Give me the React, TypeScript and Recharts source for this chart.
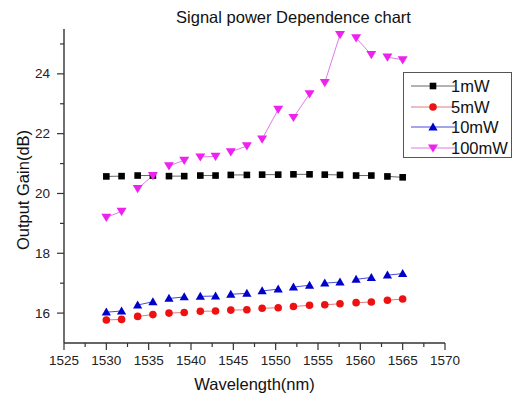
import React from 'react';
import { LineChart, Line, XAxis, YAxis } from 'recharts';

const wavelengths = [
  1530, 1531.8, 1533.7, 1535.5, 1537.4, 1539.2, 1541.1, 1542.9, 1544.7, 1546.6,
  1548.4, 1550.3, 1552.1, 1554.0, 1555.8, 1557.6, 1559.5, 1561.3, 1563.2, 1565,
];
const gain1mW = [
  20.57, 20.58, 20.6, 20.6, 20.58, 20.58, 20.6, 20.6, 20.62, 20.62,
  20.63, 20.63, 20.64, 20.64, 20.63, 20.62, 20.6, 20.6, 20.57, 20.54,
];
const gain5mW = [
  15.77, 15.79, 15.89, 15.95, 16.0, 16.02, 16.06, 16.07, 16.1, 16.11,
  16.16, 16.18, 16.22, 16.26, 16.28, 16.31, 16.35, 16.37, 16.43, 16.47,
];
const gain10mW = [
  16.03, 16.07, 16.27, 16.38, 16.49, 16.54, 16.56, 16.57, 16.63, 16.66,
  16.74, 16.8, 16.87, 16.93, 17.0, 17.04, 17.13, 17.19, 17.27, 17.32,
];
const gain100mW = [
  19.2, 19.4, 20.16, 20.6, 20.92, 21.11, 21.22, 21.24, 21.39, 21.59,
  21.82, 22.81, 22.54, 23.33, 23.71, 25.31, 25.2, 24.64, 24.56, 24.47,
];

const xTicks = [1525, 1527.5, 1530, 1532.5, 1535, 1537.5, 1540, 1542.5, 1545, 1547.5, 1550, 1552.5, 1555, 1557.5, 1560, 1562.5, 1565, 1567.5, 1570];
const yTicks = [16, 17, 18, 19, 20, 21, 22, 23, 24, 25];

const FONT = '"Liberation Sans", Arial, sans-serif';

// measurements are taken in pairs, so only each pair is joined by a line
function pairs(values: number[]) {
  const out: { x: number; y: number | null }[] = [];
  values.forEach((v, i) => {
    out.push({ x: wavelengths[i], y: v });
    if (i % 2 === 1 && i < values.length - 1) {
      out.push({ x: (wavelengths[i] + wavelengths[i + 1]) / 2, y: null });
    }
  });
  return out;
}

type Shape = 'square' | 'circle' | 'up' | 'down';

function Marker({ shape, cx, cy, fill }: { shape: Shape; cx: number; cy: number; fill: string }) {
  if (shape === 'square') return <rect x={cx - 3.3} y={cy - 3.3} width={6.6} height={6.6} fill={fill} />;
  if (shape === 'circle') return <circle cx={cx} cy={cy} r={3.8} fill={fill} />;
  if (shape === 'up')
    return <polygon points={`${cx},${cy - 4.6} ${cx + 4.6},${cy + 3.4} ${cx - 4.6},${cy + 3.4}`} fill={fill} />;
  return <polygon points={`${cx - 5},${cy - 3.6} ${cx + 5},${cy - 3.6} ${cx},${cy + 4.6}`} fill={fill} />;
}

const series = [
  { name: '1mW', values: gain1mW, shape: 'square' as Shape, fill: '#000000', line: '#666666' },
  { name: '5mW', values: gain5mW, shape: 'circle' as Shape, fill: '#ee1111', line: '#e07a7a' },
  { name: '10mW', values: gain10mW, shape: 'up' as Shape, fill: '#0000cc', line: '#4a4ad8' },
  { name: '100mW', values: gain100mW, shape: 'down' as Shape, fill: '#ee22ee', line: '#e07ae6' },
];

const XTick = (props: any) => {
  const { x, y, payload } = props;
  const major = payload.value % 5 === 0;
  return (
    <g>
      <line x1={x} x2={x} y1={y} y2={y + (major ? 7 : 4)} stroke="#333" strokeWidth={1.2} />
      {major && (
        <text x={x} y={y + 17} textAnchor="middle" dominantBaseline="central" fontSize={13.5} fontFamily={FONT} fill="#222">
          {payload.value}
        </text>
      )}
    </g>
  );
};

const YTick = (props: any) => {
  const { x, y, payload } = props;
  const major = payload.value % 2 === 0;
  return (
    <g>
      <line x1={x} x2={x - (major ? 7 : 4)} y1={y} y2={y} stroke="#333" strokeWidth={1.2} />
      {major && (
        <text x={x - 14} y={y} textAnchor="end" dominantBaseline="central" fontSize={13.5} fontFamily={FONT} fill="#222">
          {payload.value}
        </text>
      )}
    </g>
  );
};

export default function App() {
  return (
    <div style={{ position: 'absolute', left: 0, top: 0, width: 515, height: 394, background: '#fff', fontFamily: FONT }}>
      <LineChart width={515} height={394} margin={{ top: 29, right: 70, bottom: 0, left: 0 }}>
        <XAxis
          type="number"
          dataKey="x"
          domain={[1525, 1570]}
          ticks={xTicks}
          interval={0}
          height={51}
          tickSize={0}
          tickMargin={0}
          tickLine={false}
          tick={<XTick />}
          axisLine={{ stroke: '#333', strokeWidth: 1.4 }}
          allowDataOverflow
        />
        <YAxis
          type="number"
          domain={[15, 25.5]}
          ticks={yTicks}
          interval={0}
          width={64}
          tickSize={0}
          tickMargin={0}
          tickLine={false}
          tick={<YTick />}
          axisLine={{ stroke: '#333', strokeWidth: 1.4 }}
          allowDataOverflow
        />
        {series.map((s) => (
          <Line
            key={s.name}
            data={pairs(s.values)}
            dataKey="y"
            name={s.name}
            stroke={s.line}
            strokeWidth={1}
            connectNulls={false}
            isAnimationActive={false}
            dot={(p: any) =>
              p.value == null || p.cy == null ? (
                <g key={p.key} />
              ) : (
                <Marker key={p.key} shape={s.shape} cx={p.cx} cy={p.cy} fill={s.fill} />
              )
            }
            activeDot={false}
          />
        ))}
      </LineChart>

      <div style={{ position: 'absolute', left: 0, right: 0, top: 6, paddingLeft: 72, textAlign: 'center', fontSize: 16.5, color: '#111', lineHeight: '22px' }}>
        Signal power Dependence chart
      </div>
      <div style={{ position: 'absolute', left: 64, width: 381, top: 373, textAlign: 'center', fontSize: 16.5, color: '#111', lineHeight: '22px' }}>
        Wavelength(nm)
      </div>
      <div
        style={{
          position: 'absolute',
          left: 23 - 100,
          top: 190 - 11,
          width: 200,
          textAlign: 'center',
          fontSize: 16.5,
          lineHeight: '22px',
          color: '#111',
          transform: 'rotate(-90deg)',
        }}
      >
        Output Gain(dB)
      </div>

      <div
        style={{
          position: 'absolute',
          left: 403,
          top: 72,
          width: 107,
          height: 84,
          border: '1px solid #555',
          background: '#fff',
          boxSizing: 'content-box',
        }}
      >
        {series.map((s, i) => (
          <div key={s.name} style={{ position: 'absolute', left: 0, top: 3 + i * 20.7, height: 20, width: 107 }}>
            <svg width={46} height={20} style={{ position: 'absolute', left: 6, top: 0 }}>
              <line x1={1} x2={45} y1={10} y2={10} stroke={s.line} strokeWidth={1} />
              <Marker shape={s.shape} cx={23} cy={10} fill={s.fill} />
            </svg>
            <span style={{ position: 'absolute', left: 47, top: 0, fontSize: 16.5, lineHeight: '20px', color: '#111' }}>
              {s.name}
            </span>
          </div>
        ))}
      </div>
    </div>
  );
}
